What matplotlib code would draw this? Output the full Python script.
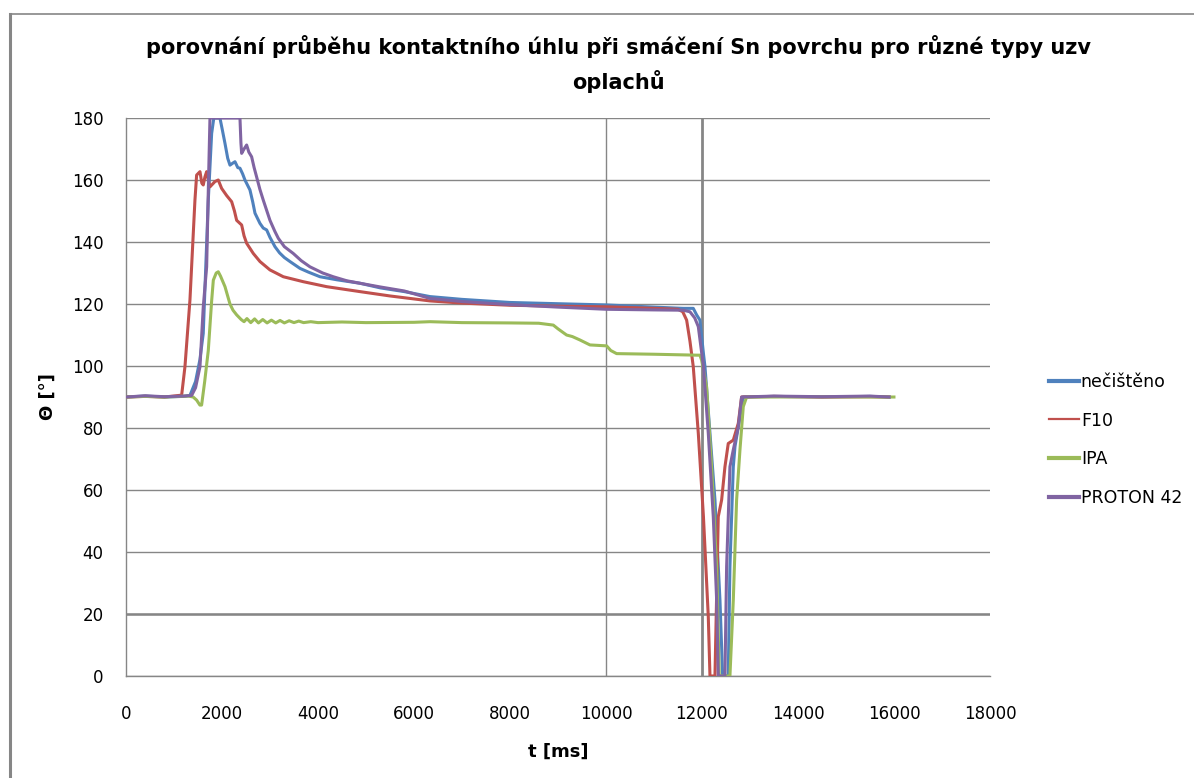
import matplotlib
matplotlib.use("Agg")
import matplotlib.pyplot as plt
from matplotlib.lines import Line2D

plt.rcParams["font.family"] = ["DejaVu Sans"]

# contact angle vs time, one series per rinse type
t_necisteno = [0, 400, 800, 1200, 1333, 1450, 1540, 1610, 1715, 1785, 1830, 1958, 2010, 2063,
               2120, 2167, 2230, 2271, 2330, 2375, 2430, 2479, 2583, 2640, 2688, 2792, 2860,
               2931, 3000, 3104, 3200, 3300, 3417, 3625, 3800, 4042, 4400, 4875, 5300, 5800,
               6333, 7000, 8000, 9000, 10014, 11000, 11611, 11819, 11889, 11958, 12031, 12063,
               12167, 12271, 12375, 12431, 12548, 12583, 12653, 12688, 12792, 12861, 13500,
               14500, 15500, 15900]
v_necisteno = [90, 90.3, 90, 90.2, 90.5, 95, 102, 110.5, 153.5, 175, 180, 180, 176, 171.8,
               167, 164.8, 165.5, 165.9, 164, 163.8, 162, 160, 156.8, 153, 149.3, 146, 144.5,
               143.9, 141.5, 138.5, 136.5, 135, 133.7, 131.5, 130.3, 128.8, 127.8, 126.7, 125.2,
               124, 122.4, 121.5, 120.5, 120.1, 119.7, 119.0, 118.6, 118.6, 116.5, 114.8, 104,
               99.8, 78.3, 56.8, 24.5, 0, 0, 35.3, 67.5, 74, 83.6, 90, 90.2, 90, 90.2, 90]

t_f10 = [0, 400, 800, 1160, 1229, 1333, 1437, 1472, 1542, 1580, 1610, 1645, 1681, 1715, 1750,
         1854, 1923, 1993, 2097, 2202, 2260, 2306, 2410, 2460, 2514, 2653, 2792, 3000, 3278,
         3694, 4180, 4875, 5500, 6333, 7000, 8000, 9000, 10014, 11000, 11500, 11600, 11681,
         11750, 11819, 11924, 12031, 12132, 12167, 12271, 12340, 12410, 12479, 12548, 12653,
         12757, 12826, 13500, 14500, 15500, 15900]
v_f10 = [90, 90.2, 90, 90.6, 99.8, 121.3, 153.5, 161.6, 162.7, 159, 158.4, 161, 162.7, 160,
         157.8, 159.5, 160, 157.3, 155, 153, 150, 147, 145.5, 142, 139.6, 136.3, 133.7, 131,
         128.8, 127.2, 125.6, 124, 122.6, 121, 120.3, 119.6, 119.3, 119.1, 118.6, 118.3, 117.5,
         114.8, 108, 99.8, 78.3, 51.4, 19.1, 0, 0, 51.4, 56.8, 67.5, 75, 76.1, 81.5, 90, 90.2,
         90, 90.1, 90]

t_ipa = [0, 400, 800, 1300, 1400, 1472, 1540, 1576, 1640, 1715, 1785, 1820, 1880, 1923, 1970,
         2063, 2167, 2230, 2306, 2400, 2460, 2520, 2600, 2680, 2760, 2850, 2940, 3030, 3120,
         3210, 3300, 3400, 3500, 3600, 3700, 3850, 4000, 4500, 5000, 6000, 6333, 7000, 8000,
         8600, 8903, 9000, 9180, 9300, 9458, 9667, 10014, 10100, 10222, 11000, 11889, 11958,
         11993, 12097, 12201, 12306, 12361, 12583, 12653, 12722, 12792, 12861, 12931, 13500,
         14500, 15500, 16000]
v_ipa = [90, 90.2, 90, 90.3, 90, 89, 87.4, 87.4, 95, 105, 121, 127.7, 130, 130.4, 129, 125.6,
         120, 118, 116.5, 115, 114.3, 115.3, 114, 115.2, 113.9, 115, 113.9, 114.8, 113.9, 114.7,
         113.9, 114.6, 114, 114.5, 114, 114.3, 114, 114.2, 114, 114.1, 114.3, 114, 113.9, 113.8,
         113.2, 112, 110, 109.5, 108.4, 106.8, 106.5, 105, 104, 103.8, 103.5, 103.5, 101.9, 93.3,
         67.5, 35.3, 0, 0, 24.5, 56.8, 73, 86.9, 90, 90, 90.1, 90, 90]

t_proton = [0, 400, 800, 1200, 1368, 1450, 1542, 1610, 1681, 1720, 1750, 2375, 2395, 2410,
            2460, 2514, 2560, 2618, 2670, 2722, 2790, 2861, 3000, 3100, 3174, 3300, 3486, 3650,
            3833, 4100, 4319, 4600, 4875, 5300, 5800, 6333, 7000, 8000, 9000, 10014, 11000,
            11611, 11750, 11850, 11924, 12031, 12132, 12236, 12306, 12340, 12479, 12514, 12583,
            12653, 12757, 12826, 13500, 14500, 15500, 15900]
v_proton = [90, 90.4, 90.1, 90.3, 90.5, 93, 99.8, 119, 132, 160, 180, 180, 172, 168.6, 170,
            171.3, 169, 167.5, 164, 161, 157, 153.5, 147, 143.5, 141.2, 138.5, 136.3, 134, 132,
            130, 128.8, 127.5, 126.7, 125.5, 124.2, 121.8, 120.8, 119.8, 119, 118.3, 118.1, 118,
            117.5, 115.5, 112.7, 99.8, 78.3, 51.4, 24.5, 0, 0, 35.3, 67.5, 73, 80.4, 90, 90.3,
            90.1, 90.3, 90]

labels = ["nečištěno", "F10", "IPA", "PROTON 42"]
colors = ["#4F81BD", "#C0504D", "#9BBB59", "#8064A2"]
grid_c = "#868686"

fig = plt.figure(figsize=(11.94, 7.78), dpi=100)
ax = fig.add_axes([0.1055, 0.1311, 0.7236, 0.7172])

series = [(t_necisteno, v_necisteno), (t_f10, v_f10), (t_ipa, v_ipa), (t_proton, v_proton)]
handles = []
for (t, v), lab, c in zip(series, labels, colors):
    h, = ax.plot(t, v, color=c, lw=2.2, label=lab, zorder=3)
    handles.append(h)

ax.set_xlim(0, 18000)
ax.set_ylim(0, 180)
ax.set_xticks(range(0, 18001, 2000))
ax.set_yticks(range(0, 181, 20))
ax.yaxis.grid(True, color=grid_c, lw=1.0)
ax.set_axisbelow(True)
ax.axhline(20, color=grid_c, lw=1.8, zorder=1)
ax.axvline(10000, color=grid_c, lw=1.0, zorder=1)
ax.axvline(12000, color=grid_c, lw=2.0, zorder=1)

for s in ["top", "right"]:
    ax.spines[s].set_visible(False)
for s in ["left", "bottom"]:
    ax.spines[s].set_color(grid_c)
    ax.spines[s].set_linewidth(1.0)
ax.tick_params(axis="y", length=0, pad=16, labelsize=12)
ax.tick_params(axis="x", length=0, pad=21, labelsize=12)

ax.set_xlabel("t [ms]", fontsize=13, fontweight="bold", labelpad=14)
ax.set_ylabel("Θ [°]", fontsize=13, fontweight="bold", labelpad=11)

fig.text(0.518, 0.94, "porovnání průběhu kontaktního úhlu při smáčení Sn povrchu pro různé typy uzv",
         ha="center", va="center", fontsize=15, fontweight="bold")
fig.text(0.518, 0.895, "oplachů", ha="center", va="center", fontsize=15, fontweight="bold")

leg = ax.legend(handles=handles, loc="center left", bbox_to_anchor=(1.06, 0.423),
                frameon=False, fontsize=12.5, handlelength=1.75, handletextpad=0.1,
                labelspacing=1.2, borderaxespad=0)
for line, w in zip(leg.get_lines(), [3, 1.6, 3, 3]):
    line.set_linewidth(w)

# outer chart frame
fig.add_artist(Line2D([10 / 1194, 10 / 1194], [0, 1 - 14 / 778], transform=fig.transFigure,
                      color=grid_c, lw=2.2))
fig.add_artist(Line2D([10 / 1194, 1], [1 - 14 / 778, 1 - 14 / 778], transform=fig.transFigure,
                      color=grid_c, lw=1.2))

fig.savefig("out.png", dpi=100)
